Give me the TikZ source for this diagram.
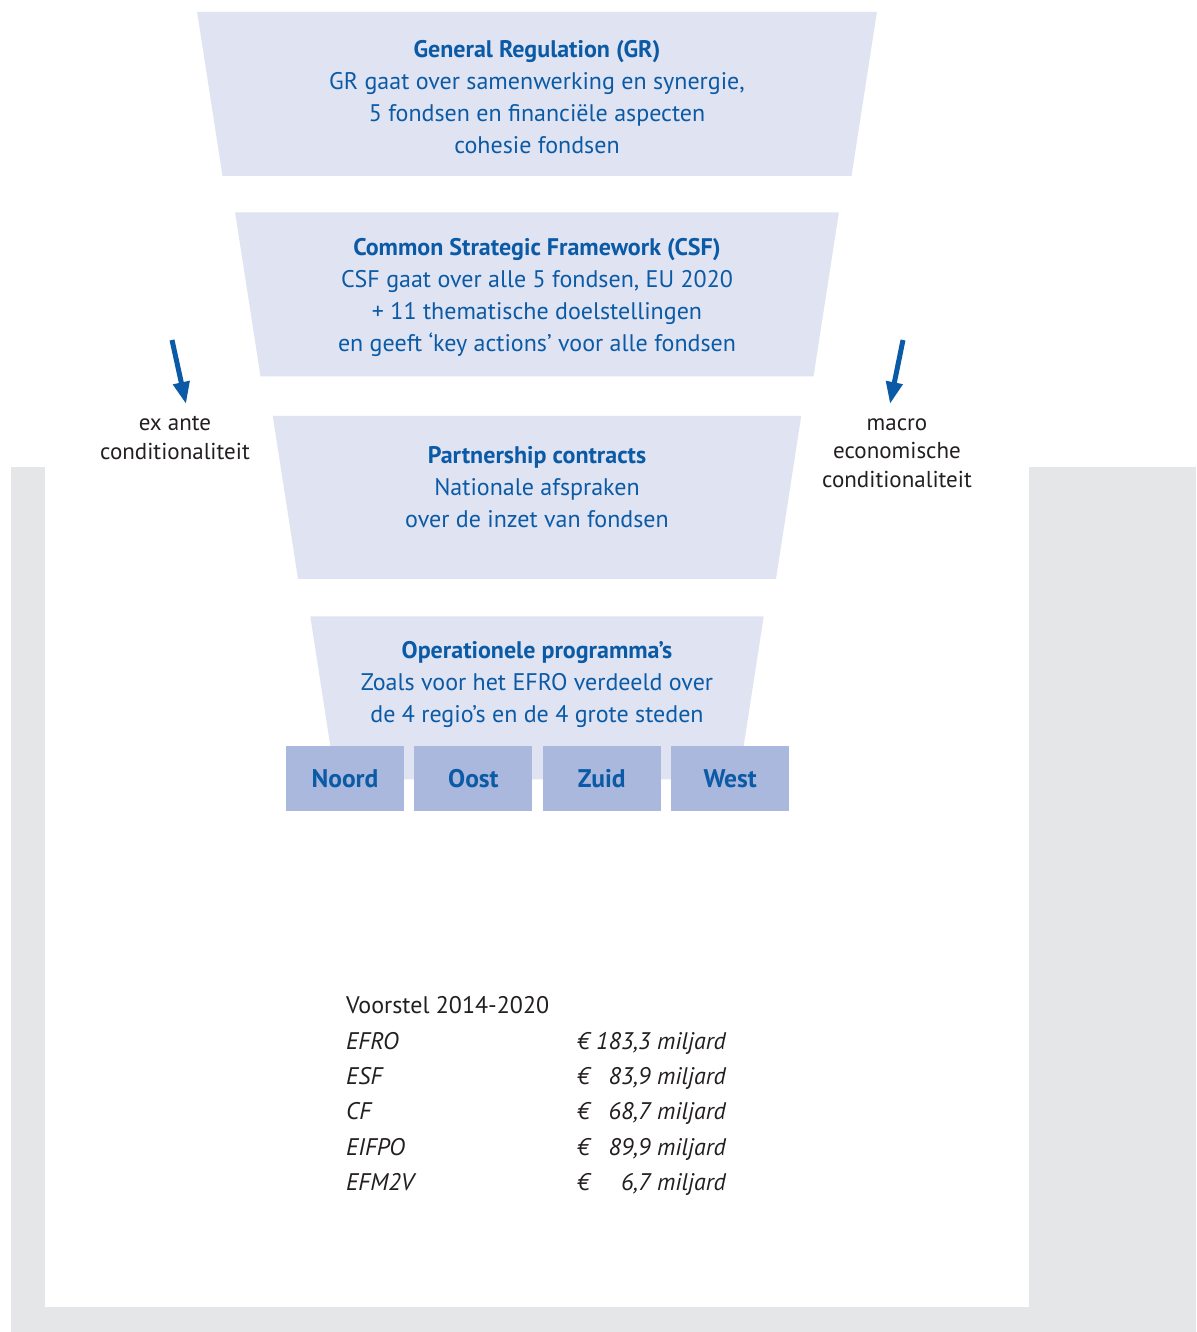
\documentclass[tikz,border=0pt]{standalone}
\usepackage{fontspec}
\setmainfont{PT Sans}
\usepackage{xcolor}
\usepackage{tikz}
\usetikzlibrary{shapes.geometric, arrows.meta, positioning}
\definecolor{funnelfill}{HTML}{DFE3F2}
\definecolor{regionfill}{HTML}{ABB8DD}
\definecolor{eublue}{HTML}{0B5AA6}
\definecolor{framegrey}{HTML}{E5E6E8}
\definecolor{textgrey}{HTML}{231F20}
\tikzset{
    funnel/.style={trapezium, trapezium angle=81.2, shape border rotate=180, fill=funnelfill, inner ysep=82pt},
    funneltext/.style={align=center, text=eublue, font=\fontsize{24}{32}\selectfont},
    region/.style={rectangle, fill=regionfill, minimum width=118pt, minimum height=65pt, inner sep=0pt, text=eublue, font=\fontsize{25.5}{28}\selectfont\bfseries},
    condition/.style={align=center, text=textgrey, font=\fontsize{23}{28.5}\selectfont},
    condarrow/.style={-{Triangle[length=22pt, width=16pt]}, line width=5pt, draw=eublue}
}

\begin{document}
\begin{tikzpicture}[x=1pt, y=1pt, node distance=36pt]
            \useasboundingbox (0,0) rectangle (1196,-1332);
            % grey frame
            \fill[framegrey] (11,-467) rectangle (1196,-1332);
            \fill[white] (45,-467) rectangle (1029,-1307);

            \node (gr) [funnel, inner xsep=314.5pt] at (537,-94) {};
            \node (csf) [funnel, below=36pt of gr, inner xsep=276.5pt] {};
            \node (pp) [funnel, below=39pt of csf, inner xsep=239pt, inner ysep=81.5pt] {};
            \node (op) [funnel, below=37pt of pp, inner xsep=201.5pt, inner ysep=81.5pt] {};

            \node (grtext) [funneltext] at ([yshift=-3pt]gr.center) {\textbf{General Regulation (GR)}\\GR gaat over samenwerking en synergie,\\5 fondsen en financiële aspecten\\cohesie fondsen};
            \node (csftext) [funneltext] at ([yshift=-3pt]csf.center) {\textbf{Common Strategic Framework (CSF)}\\CSF gaat over alle 5 fondsen, EU 2020\\+ 11 thematische doelstellingen\\en geeft ‘key actions’ voor alle fondsen};
            \node (pptext) [funneltext] at ([yshift=10pt]pp.center) {\textbf{Partnership contracts}\\Nationale afspraken\\over de inzet van fondsen};
            \node (optext) [funneltext] at ([yshift=13pt]op.center) {\textbf{Operationele programma’s}\\Zoals voor het EFRO verdeeld over\\de 4 regio’s en de 4 grote steden};

            \node (noord) [region] at (345,-778.5) {Noord};
            \node (oost) [region, right=10pt of noord] {Oost};
            \node (zuid) [region, right=10pt of oost] {Zuid};
            \node (west) [region, right=10pt of zuid] {West};

            \node (exante) [condition] at (175,-438) {ex ante\\conditionaliteit};
            \node (macro) [condition] at (897,-453) {macro\\economische\\conditionaliteit};
            \coordinate (exstart) at (172,-340);
            \coordinate (exend) at (186,-404);
            \coordinate (macrostart) at (903,-340);
            \coordinate (macroend) at (890,-404);
            \draw[condarrow] (exstart) -- (exend);
            \draw[condarrow] (macrostart) -- (macroend);

            \node (budget) [anchor=north west, text=textgrey, font=\fontsize{24}{35.3}\selectfont, inner sep=0pt] at (346,-989) {%
                \begin{tabular}{@{}p{231pt}@{}l@{\ }r@{\ }l@{}}
                Voorstel 2014-2020 & & & \\
                \itshape EFRO & \itshape € & \itshape 183,3 & \itshape miljard\\
                \itshape ESF & \itshape € & \itshape 83,9 & \itshape miljard\\
                \itshape CF & \itshape € & \itshape 68,7 & \itshape miljard\\
                \itshape EIFPO & \itshape € & \itshape 89,9 & \itshape miljard\\
                \itshape EFM2V & \itshape € & \itshape 6,7 & \itshape miljard
                \end{tabular}};
        \end{tikzpicture}
\end{document}
